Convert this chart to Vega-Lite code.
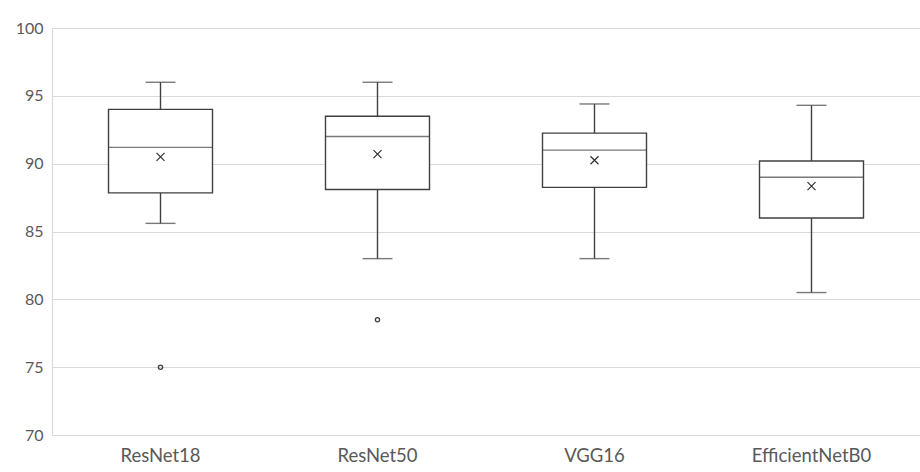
{
  "$schema": "https://vega.github.io/schema/vega-lite/v6.json",
  "width": 868,
  "height": 407,
  "autosize": {"type": "none"},
  "padding": {"left": 52, "top": 28, "right": 0, "bottom": 37},
  "background": "white",
  "config": {
    "view": {"stroke": null},
    "axis": {"labelFont": "Lato", "labelColor": "#595959", "labelFontSize": 16, "ticks": false, "title": null}
  },
  "datasets": {
    "stats": [
      {"model": "ResNet18", "lo": 85.6, "q1": 87.85, "median": 91.2, "q3": 94.0, "hi": 96.0, "mean": 90.5},
      {"model": "ResNet50", "lo": 83.0, "q1": 88.1, "median": 92.0, "q3": 93.5, "hi": 96.0, "mean": 90.7},
      {"model": "VGG16", "lo": 83.0, "q1": 88.25, "median": 91.0, "q3": 92.25, "hi": 94.4, "mean": 90.25},
      {"model": "EfficientNetB0", "lo": 80.5, "q1": 86.0, "median": 89.0, "q3": 90.2, "hi": 94.3, "mean": 88.35}
    ],
    "outliers": [
      {"model": "ResNet18", "value": 75.0},
      {"model": "ResNet50", "value": 78.5}
    ]
  },
  "data": {"name": "stats"},
  "encoding": {
    "x": {
      "field": "model", "type": "nominal", "sort": null,
      "scale": {"domain": ["ResNet18", "ResNet50", "VGG16", "EfficientNetB0"], "paddingInner": 0, "paddingOuter": 0},
      "axis": {"labelAngle": 0, "labelPadding": 11, "labelFontSize": 18.5, "domain": false, "grid": false}
    }
  },
  "layer": [
    {
      "mark": {"type": "rule", "color": "#404040", "strokeWidth": 1.4},
      "encoding": {
        "y": {"field": "lo", "type": "quantitative",
          "scale": {"domain": [70, 100], "nice": false, "zero": false},
          "axis": {"values": [70, 75, 80, 85, 90, 95, 100], "grid": true, "gridColor": "#d9d9d9", "gridWidth": 1.2, "domain": true, "domainColor": "#d9d9d9", "domainWidth": 1.2, "labelPadding": 9}},
        "y2": {"field": "q1"}
      }
    },
    {
      "mark": {"type": "rule", "color": "#404040", "strokeWidth": 1.4},
      "encoding": {"y": {"field": "q3", "type": "quantitative"}, "y2": {"field": "hi"}}
    },
    {
      "mark": {"type": "bar", "size": 104, "fill": "white", "stroke": "#404040", "strokeWidth": 1.4},
      "encoding": {"y": {"field": "q1", "type": "quantitative"}, "y2": {"field": "q3"}}
    },
    {
      "mark": {"type": "tick", "size": 104, "thickness": 1.4, "color": "#404040"},
      "encoding": {"y": {"field": "median", "type": "quantitative"}}
    },
    {
      "mark": {"type": "tick", "size": 30, "thickness": 1.4, "color": "#404040"},
      "encoding": {"y": {"field": "lo", "type": "quantitative"}}
    },
    {
      "mark": {"type": "tick", "size": 30, "thickness": 1.4, "color": "#404040"},
      "encoding": {"y": {"field": "hi", "type": "quantitative"}}
    },
    {
      "mark": {"type": "point", "shape": "M-1,-1L1,1M-1,1L1,-1", "size": 64, "filled": false, "stroke": "#303030", "strokeWidth": 1.2, "opacity": 1},
      "encoding": {"y": {"field": "mean", "type": "quantitative"}}
    },
    {
      "data": {"name": "outliers"},
      "mark": {"type": "point", "shape": "circle", "size": 18, "filled": false, "stroke": "#404040", "strokeWidth": 1.3, "opacity": 1},
      "encoding": {"y": {"field": "value", "type": "quantitative"}}
    }
  ]
}
